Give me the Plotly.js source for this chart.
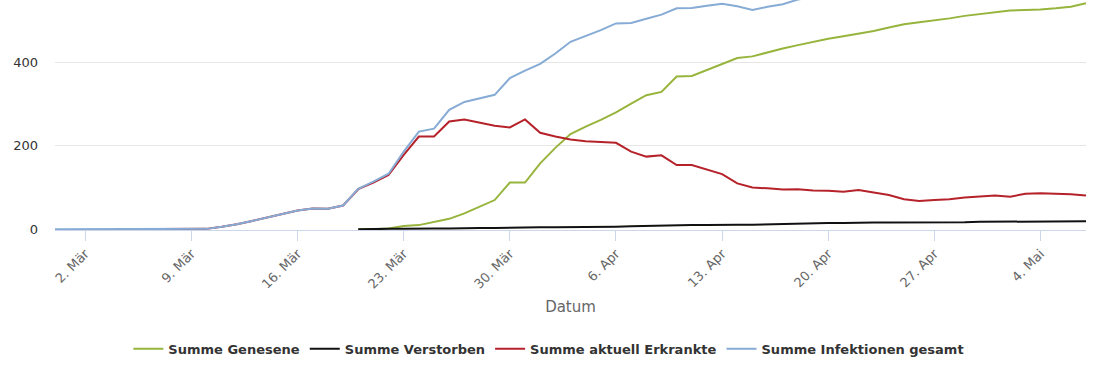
<!DOCTYPE html>
<html>
<head>
<meta charset="utf-8">
<script src="https://cdn.plot.ly/plotly-3.0.1.min.js"></script>
<style>
  html, body { margin: 0; padding: 0; background: #fff; }
  #chart { width: 1110px; height: 370px; }
</style>
</head>
<body>
<div id="chart"></div>
<script>
// Dates (29 Feb 2020 – 7 May 2020)
const dates = [
  "2020-02-29","2020-03-01","2020-03-02","2020-03-03","2020-03-04","2020-03-05","2020-03-06","2020-03-07",
  "2020-03-08","2020-03-09","2020-03-10","2020-03-11","2020-03-12","2020-03-13","2020-03-14","2020-03-15",
  "2020-03-16","2020-03-17","2020-03-18","2020-03-19","2020-03-20","2020-03-21","2020-03-22","2020-03-23",
  "2020-03-24","2020-03-25","2020-03-26","2020-03-27","2020-03-28","2020-03-29","2020-03-30","2020-03-31",
  "2020-04-01","2020-04-02","2020-04-03","2020-04-04","2020-04-05","2020-04-06","2020-04-07","2020-04-08",
  "2020-04-09","2020-04-10","2020-04-11","2020-04-12","2020-04-13","2020-04-14","2020-04-15","2020-04-16",
  "2020-04-17","2020-04-18","2020-04-19","2020-04-20","2020-04-21","2020-04-22","2020-04-23","2020-04-24",
  "2020-04-25","2020-04-26","2020-04-27","2020-04-28","2020-04-29","2020-04-30","2020-05-01","2020-05-02",
  "2020-05-03","2020-05-04","2020-05-05","2020-05-06","2020-05-07"
];

const N = null;
const genesene = [
  N,N,N,N,N,N,N,N,N,N,N,N,N,N,N,N,N,N,N,N,
  0,0,2,8,10,17,25,38,54,70,112,112,158,195,228,246,262,280,301,321,
  329,366,367,381,396,410,414,424,433,441,449,456,462,468,475,483,491,496,500,505,
  511,515,519,524,525,526,529,533,541
];
const verstorben = [
  N,N,N,N,N,N,N,N,N,N,N,N,N,N,N,N,N,N,N,N,
  0,1,1,1,2,2,2,3,3,3,4,5,5,5,5,6,6,6,7,8,
  8,9,10,10,11,11,11,12,12,13,14,15,15,16,16,16,16,17,17,17,
  17,18,18,19,19,19,19,19,19
];
const erkrankte = [
  N,N,N,N,0,0,0,0,0,0,1,6,12,20,28,37,45,50,49,57,
  96,112,130,178,222,222,258,263,255,248,244,263,231,222,215,211,209,207,186,174,
  177,154,154,143,132,110,100,98,95,96,93,92,90,94,88,82,72,68,70,72,
  76,78,81,78,85,86,85,84,81
];
const infektionen = [
  0,0,0,0,0,0,0,0,0,0,1,6,12,20,28,37,45,50,49,57,
  97,114,133,186,234,241,286,305,314,322,362,380,396,421,449,463,477,493,494,504,
  514,529,530,535,540,534,525,533,539,550,556,563,566,578,577,579,579,582,587,594,
  605,612,618,621,629,633,633,637,641
];

const seriesNames = ["Summe Genesene","Summe Verstorben","Summe aktuell Erkrankte","Summe Infektionen gesamt"];
const seriesColors = ["#97b43c","#111111","#b5222a","#86abd5"];
const seriesData = [genesene, verstorben, erkrankte, infektionen];

const tickVals = ["2020-03-02","2020-03-09","2020-03-16","2020-03-23","2020-03-30","2020-04-06","2020-04-13","2020-04-20","2020-04-27","2020-05-04"];
const tickText = ["2. Mär","9. Mär","16. Mär","23. Mär","30. Mär","6. Apr","13. Apr","20. Apr","27. Apr","4. Mai"];
const yTicks = [0, 200, 400];

const traces = seriesData.map((vals, i) => ({
  type: "scatter",
  mode: "lines",
  x: dates,
  y: vals,
  name: seriesNames[i],
  line: { color: seriesColors[i], width: 2 },
  connectgaps: false,
  hoverinfo: "x+y+name"
}));

const layout = {
  width: 1110,
  height: 370,
  margin: { l: 55, r: 24, t: 0, b: 140 },
  paper_bgcolor: "#ffffff",
  plot_bgcolor: "#ffffff",
  font: { family: "DejaVu Sans, Verdana, sans-serif", color: "#333333", size: 12 },
  showlegend: true,
  legend: {
    orientation: "h",
    x: 0.479, xanchor: "center",
    y: -0.517, yanchor: "middle",
    font: { family: "DejaVu Sans, Verdana, sans-serif", size: 13, color: "#333333", weight: "bold" },
    itemwidth: 30,
    traceorder: "normal"
  },
  xaxis: {
    type: "date",
    range: ["2020-02-29", "2020-05-07"],
    tickvals: tickVals,
    ticktext: tickText,
    tickangle: -45,
    tickfont: { size: 13, color: "#666666" },
    ticks: "outside",
    ticklen: 10,
    tickcolor: "#ccd6eb",
    showline: true,
    linecolor: "#ccd6eb",
    linewidth: 1,
    showgrid: false,
    zeroline: false,
    title: { text: "Datum", font: { size: 15, color: "#666666" }, standoff: 10 }
  },
  yaxis: {
    range: [-1.7, 549],
    tickvals: yTicks,
    ticktext: yTicks.map(String),
    tickfont: { size: 13, color: "#333333" },
    ticklabelstandoff: 16,
    showgrid: true,
    gridcolor: "#e6e6e6",
    gridwidth: 1,
    zeroline: false,
    showline: false,
    fixedrange: true
  }
};

Plotly.newPlot("chart", traces, layout, { displayModeBar: false, staticPlot: true });
</script>
</body>
</html>
